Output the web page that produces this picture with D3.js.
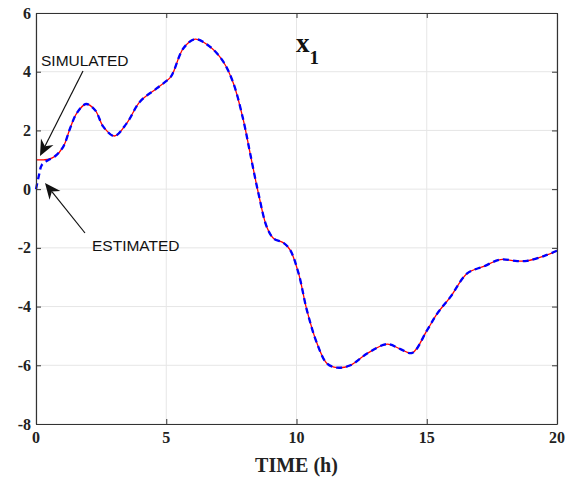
<!DOCTYPE html>
<html><head><meta charset="utf-8">
<script src="https://cdn.jsdelivr.net/npm/d3@7"></script>
<style>body{margin:0;background:#fff}svg{display:block}</style>
</head><body>
<script>
// ---- data ----
const timeSim = [0,0.3,0.5,0.73,1.05,1.30,1.56,1.92,2.27,2.59,3.01,3.48,3.99,4.63,5.15,5.27,5.66,6.11,6.68,7.19,7.58,7.96,8.22,8.54,8.86,9.12,9.50,9.76,10.08,10.40,10.79,11.17,11.56,12.07,12.71,13.48,13.99,14.44,15.01,15.40,15.91,16.55,17.19,17.83,18.47,18.85,19.49,20];
const simulated = [1.0,1.0,1.02,1.12,1.45,2.05,2.58,2.90,2.69,2.12,1.81,2.24,2.98,3.43,3.80,3.98,4.80,5.11,4.85,4.34,3.60,2.35,1.22,-0.15,-1.29,-1.68,-1.83,-2.08,-2.87,-4.13,-5.26,-5.94,-6.08,-6.00,-5.60,-5.28,-5.45,-5.58,-4.81,-4.24,-3.67,-2.87,-2.63,-2.40,-2.45,-2.44,-2.28,-2.10];
const timeEstStart = [0,0.13,0.22,0.47];
const estimatedStart = [0,0.53,0.82,0.99];
const xTicks = [0,5,10,15,20];
const yTicks = [-8,-6,-4,-2,0,2,4,6];
const xLabel = "TIME (h)";
const annotations = ["SIMULATED","ESTIMATED"];

// estimated joins simulated after t = 0.73
const simPts = timeSim.map((t,i)=>[t,simulated[i]]);
const estPts = timeEstStart.map((t,i)=>[t,estimatedStart[i]]).concat(simPts.filter(p=>p[0]>=0.73));

const W=570,H=487;
const m={l:36,r:13,t:13,b:63};
const svg=d3.select("body").append("svg").attr("width",W).attr("height",H);
const x=d3.scaleLinear().domain([0,20]).range([m.l,W-m.r]);
const y=d3.scaleLinear().domain([-8,6]).range([H-m.b,m.t]);
const serif="'Liberation Serif','Times New Roman',serif";

// grid
const g=svg.append("g");
g.selectAll(".gx").data(xTicks).join("line").attr("x1",d=>x(d)).attr("x2",d=>x(d)).attr("y1",y(-8)).attr("y2",y(6)).attr("stroke","#e6e6e6");
g.selectAll(".gy").data(yTicks).join("line").attr("y1",d=>y(d)).attr("y2",d=>y(d)).attr("x1",x(0)).attr("x2",x(20)).attr("stroke","#e6e6e6");

// lines
const line=d3.line().x(d=>x(d[0])).y(d=>y(d[1])).curve(d3.curveCatmullRom.alpha(0.5));
svg.append("path").datum(simPts).attr("d",line).attr("fill","none").attr("stroke","#ff0000").attr("stroke-width",1.3);
svg.append("path").datum(estPts).attr("d",line).attr("fill","none").attr("stroke","#0000ff").attr("stroke-width",2.3).attr("stroke-dasharray","6,4");

// axes (ticks only; labels drawn below)
const axColor="#333";
const ax=svg.append("g").attr("transform",`translate(0,${y(-8)})`).call(d3.axisBottom(x).tickValues(xTicks).tickSizeInner(-5).tickSizeOuter(0).tickFormat(""));
const axT=svg.append("g").attr("transform",`translate(0,${y(6)})`).call(d3.axisTop(x).tickValues(xTicks).tickSizeInner(-5).tickSizeOuter(0).tickFormat(""));
const ay=svg.append("g").attr("transform",`translate(${x(0)},0)`).call(d3.axisLeft(y).tickValues(yTicks).tickSizeInner(-5).tickSizeOuter(0).tickFormat(""));
const ayR=svg.append("g").attr("transform",`translate(${x(20)},0)`).call(d3.axisRight(y).tickValues(yTicks).tickSizeInner(-5).tickSizeOuter(0).tickFormat(""));
[ax,axT,ay,ayR].forEach(a=>{a.select(".domain").attr("stroke",axColor).attr("stroke-width",1.2);a.selectAll(".tick line").attr("stroke",axColor);});

// tick labels
svg.append("g").selectAll("text").data(xTicks).join("text")
 .attr("x",d=>x(d)).attr("y",443).attr("text-anchor","middle")
 .attr("font-family",serif).attr("font-weight","bold").attr("font-size",16).attr("fill","#222").text(d=>d);
svg.append("g").selectAll("text").data(yTicks).join("text")
 .attr("x",x(0)-5).attr("y",d=>y(d)+5.5).attr("text-anchor","end")
 .attr("font-family",serif).attr("font-weight","bold").attr("font-size",16).attr("fill","#222").text(d=>d);

// x label
svg.append("text").attr("x",(x(0)+x(20))/2).attr("y",472).attr("text-anchor","middle")
 .attr("font-family",serif).attr("font-weight","bold").attr("font-size",20).attr("fill","#222").text(xLabel);

// title x_1
const tt=svg.append("text").attr("x",296).attr("y",52).attr("font-family",serif).attr("font-weight","bold").attr("fill","#111");
tt.append("tspan").attr("font-size",27).text("x");
tt.append("tspan").attr("font-size",19).attr("dy",12).text("1");

// annotations
const af="'Liberation Sans',Arial,sans-serif";
svg.append("text").attr("x",41).attr("y",66).attr("font-family",af).attr("font-size",15.5).attr("fill","#111").text(annotations[0]);
svg.append("text").attr("x",92).attr("y",251).attr("font-family",af).attr("font-size",15.5).attr("fill","#111").text(annotations[1]);

function arrow(x1,y1,x2,y2){
  const ang=Math.atan2(y2-y1,x2-x1), L=16, w=7, back=11;
  const ux=Math.cos(ang), uy=Math.sin(ang), px=-uy, py=ux;
  svg.append("line").attr("x1",x1).attr("y1",y1).attr("x2",x2-ux*back).attr("y2",y2-uy*back).attr("stroke","#111").attr("stroke-width",1.2);
  const bx=x2-ux*L, by=y2-uy*L, cx=x2-ux*back, cy=y2-uy*back;
  svg.append("path").attr("d",`M${x2},${y2}L${bx+px*w},${by+py*w}L${cx},${cy}L${bx-px*w},${by-py*w}Z`).attr("fill","#111");
}
arrow(83,71,40,156);
arrow(85,233,45,183);
</script>
</body></html>
